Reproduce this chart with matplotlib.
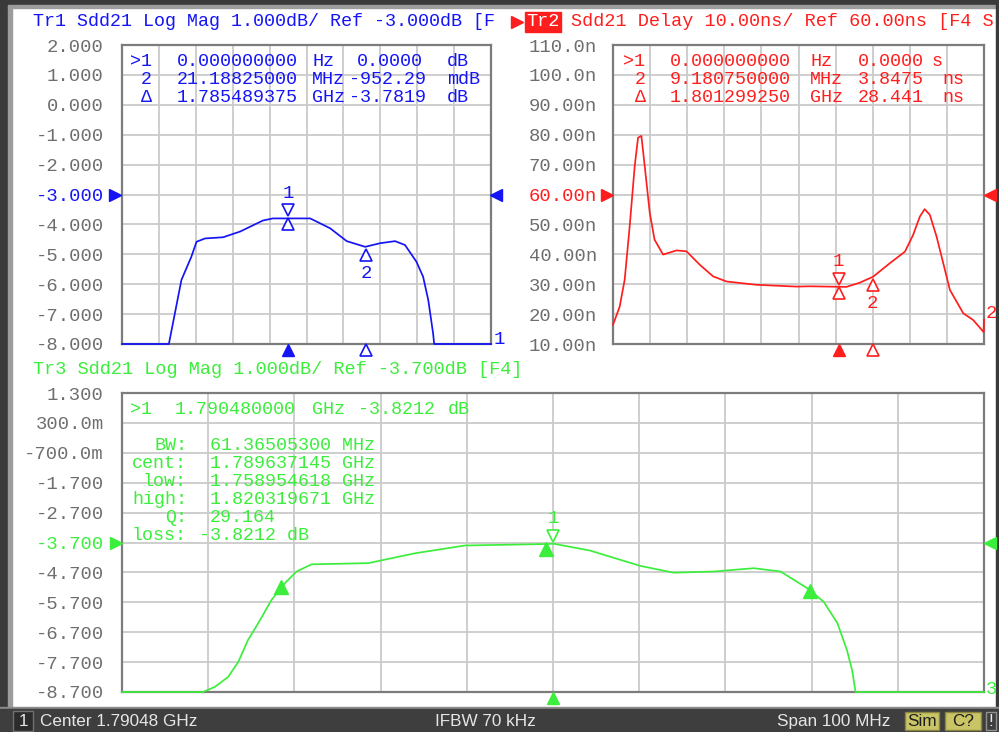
import matplotlib
matplotlib.use("Agg")
import matplotlib.pyplot as plt
from matplotlib.patches import Rectangle
from matplotlib.transforms import offset_copy
import numpy as np

W, H = 999, 732
F_START, F_STOP = 1.74048, 1.84048  # GHz, center 1.79048 GHz, span 100 MHz

# ---------------- data ----------------
tr1_freq = [1.74048, 1.75318, 1.75428, 1.75658, 1.75928, 1.76068, 1.76298, 1.76788,
            1.77248, 1.77868, 1.78138, 1.79148, 1.79688, 1.80138, 1.80638, 1.81038,
            1.81448, 1.81718, 1.82028, 1.82208, 1.82348, 1.82478, 1.82508, 1.84048]
tr1_db = [-8.0, -8.0, -7.31, -5.86, -5.08, -4.58, -4.47, -4.43,
          -4.24, -3.87, -3.80, -3.80, -4.13, -4.56, -4.75, -4.63,
          -4.56, -4.69, -5.25, -5.75, -6.53, -7.64, -8.0, -8.0]

tr2_freq = [1.74048, 1.74228, 1.74363, 1.74498, 1.74633, 1.74723, 1.74813, 1.74903,
            1.75038, 1.75168, 1.75398, 1.75758, 1.76028, 1.76388, 1.76748, 1.77108,
            1.77918, 1.78998, 1.79348, 1.80338, 1.80698, 1.81058, 1.81508, 1.81918,
            1.82138, 1.82318, 1.82448, 1.82588, 1.82768, 1.82948, 1.83128, 1.83488,
            1.83758, 1.84038, 1.84048]
tr2_ns = [16.4, 22.5, 31.5, 49.4, 69.5, 79.0, 79.6, 69.5,
          53.9, 44.9, 39.9, 41.3, 41.0, 36.5, 32.6, 30.9,
          29.8, 29.2, 29.3, 29.1, 30.5, 32.5, 37.0, 40.9,
          46.5, 52.6, 55.1, 53.2, 46.0, 37.1, 28.1, 20.3,
          18.0, 14.0, 18.1]

tr3_freq = [1.74048, 1.74988, 1.75125, 1.75278, 1.75398, 1.75508, 1.75628, 1.75783,
            1.75938, 1.76073, 1.76248, 1.76905, 1.77448, 1.78028, 1.78998, 1.79054,
            1.79478, 1.80058, 1.80448, 1.80912, 1.81378, 1.81688, 1.81998, 1.82188,
            1.82348, 1.82458, 1.82518, 1.82558, 1.84048]
tr3_db = [-8.7, -8.7, -8.53, -8.20, -7.69, -6.97, -6.40, -5.62,
          -5.06, -4.67, -4.43, -4.39, -4.06, -3.80, -3.75, -3.74,
          -3.97, -4.48, -4.71, -4.67, -4.56, -4.67, -5.23, -5.68,
          -6.40, -7.30, -7.97, -8.7, -8.7]

tr1_ticks = [2, 1, 0, -1, -2, -3, -4, -5, -6, -7, -8]
tr1_labels = ["2.000", "1.000", "0.000", "-1.000", "-2.000", "-3.000", "-4.000",
              "-5.000", "-6.000", "-7.000", "-8.000"]
tr2_ticks = [110, 100, 90, 80, 70, 60, 50, 40, 30, 20, 10]
tr2_labels = ["110.0n", "100.0n", "90.00n", "80.00n", "70.00n", "60.00n", "50.00n",
              "40.00n", "30.00n", "20.00n", "10.00n"]
tr3_ticks = [1.3, 0.3, -0.7, -1.7, -2.7, -3.7, -4.7, -5.7, -6.7, -7.7, -8.7]
tr3_labels = ["1.300", "300.0m", "-700.0m", "-1.700", "-2.700", "-3.700", "-4.700",
              "-5.700", "-6.700", "-7.700", "-8.700"]

tr1_ref, tr2_ref, tr3_ref = -3.0, 60.0, -3.7
tr1_m1, tr1_m2 = 1.785489375, 1.785489375 + 0.02118825
tr2_m1, tr2_m2 = 1.801299250, 1.801299250 + 0.00918075
tr3_m1 = 1.79048
tr3_low, tr3_cent, tr3_high = 1.758954618, 1.789637145, 1.820319671

tr1_title = "Tr1 Sdd21 Log Mag 1.000dB/ Ref -3.000dB [F"
tr2_title = "Sdd21 Delay 10.00ns/ Ref 60.00ns [F4 S"
tr3_title = "Tr3 Sdd21 Log Mag 1.000dB/ Ref -3.700dB [F4]"

tr1_rows = [(">1", "0.000000000", "Hz", "0.0000", "dB"),
            ("2", "21.18825000", "MHz", "-952.29", "mdB"),
            ("\u0394", "1.785489375", "GHz", "-3.7819", "dB")]
tr2_rows = [(">1", "0.000000000", "Hz", "0.0000", "s"),
            ("2", "9.180750000", "MHz", "3.8475", "ns"),
            ("\u0394", "1.801299250", "GHz", "28.441", "ns")]
tr3_row = (">1", "1.790480000", "GHz", "-3.8212", "dB")
bw_rows = [("BW:", "61.36505300 MHz"), ("cent:", "1.789637145 GHz"),
           ("low:", "1.758954618 GHz"), ("high:", "1.820319671 GHz"),
           ("Q:", "29.164"), ("loss:", "-3.8212 dB")]

BLUE, RED, GREEN = "#1414f5", "#ff1e1e", "#3cee3c"
GRAY_TXT = "#6e6e6e"
MONO = "Liberation Mono"
FS = 13.6      # tick labels
FM = 13.2      # marker read-outs

fig = plt.figure(figsize=(W / 100, H / 100), dpi=100)
fig.patch.set_facecolor("white")

def overlay(z):
    a = fig.add_axes([0, 0, 1, 1], zorder=z)
    a.set_xlim(0, W)
    a.set_ylim(H, 0)
    a.axis("off")
    a.patch.set_alpha(0)
    return a

bg = overlay(-10)
fg = overlay(10)

# window frame
bg.add_patch(Rectangle((0, 0), W, H, color="white"))
bg.add_patch(Rectangle((0, 0), 8, H, color="#3a3a3a"))
bg.add_patch(Rectangle((8, 6), 4, 702, color="#9c9c9c"))
bg.add_patch(Rectangle((0, 0), W, 5, color="#3a3a3a"))
bg.add_patch(Rectangle((8, 5), W - 8, 3, color="#9c9c9c"))
bg.add_patch(Rectangle((996, 0), 3, H, color="#3a3a3a"))

def make_axes(x0, y0, x1, y1):
    return fig.add_axes([x0 / W, 1 - y1 / H, (x1 - x0) / W, (y1 - y0) / H])

def style(ax, ticks, labels, ref, color, pad):
    ax.set_xlim(F_START, F_STOP)
    ax.set_ylim(min(ticks), max(ticks))
    ax.set_xticks(np.linspace(F_START, F_STOP, 11))
    ax.set_xticklabels([])
    ax.set_yticks(ticks)
    ax.set_yticklabels(labels, fontfamily=MONO, fontsize=FS, color=GRAY_TXT)
    ax.tick_params(length=0, pad=pad)
    ax.grid(True, color="#cacaca", lw=1.3)
    ax.set_axisbelow(True)
    for s in ax.spines.values():
        s.set_color("#7c7c7c")
        s.set_linewidth(1.6)
    for t, v in zip(ax.get_yticklabels(), ticks):
        if abs(v - ref) < 1e-9:
            t.set_color(color)

ax1 = make_axes(122, 45, 491, 344)
ax2 = make_axes(613, 45, 984, 344)
ax3 = make_axes(122, 393, 984, 692)
style(ax1, tr1_ticks, tr1_labels, tr1_ref, BLUE, 13)
style(ax2, tr2_ticks, tr2_labels, tr2_ref, RED, 11.5)
style(ax3, tr3_ticks, tr3_labels, tr3_ref, GREEN, 13)

ax1.plot(tr1_freq, tr1_db, color=BLUE, lw=1.25, clip_on=False, zorder=4)
ax2.plot(tr2_freq, tr2_ns, color=RED, lw=1.25, clip_on=False, zorder=4)
ax3.plot(tr3_freq, tr3_db, color=GREEN, lw=1.25, clip_on=False, zorder=4)

def off(ax, dy):
    return offset_copy(ax.transData, fig=fig, x=0, y=dy, units="dots")

def ref_arrows(ax, ref, color, left_px, right_px, w_px):
    tr = ax.get_yaxis_transform()
    ax.plot([-left_px / w_px], [ref], marker=">", ms=8, color=color, transform=tr, clip_on=False, zorder=6)
    ax.plot([1 + right_px / w_px], [ref], marker="<", ms=8, color=color, transform=tr, clip_on=False, zorder=6)

ref_arrows(ax1, tr1_ref, BLUE, 7, 5, 369)
ref_arrows(ax2, tr2_ref, RED, 6, 6, 371)
ref_arrows(ax3, tr3_ref, GREEN, 6, 6, 862)

def axis_markers(ax, f_fill, f_open, color, h_px):
    tr = ax.get_xaxis_transform()
    ax.plot([f_fill], [-6 / h_px], marker="^", ms=9, color=color, transform=tr, clip_on=False, zorder=6)
    if f_open is not None:
        ax.plot([f_open], [-6 / h_px], marker="^", ms=9, mfc="white", mec=color, mew=1.2,
                transform=tr, clip_on=False, zorder=6)

axis_markers(ax1, tr1_m1, tr1_m2, BLUE, 299)
axis_markers(ax2, tr2_m1, tr2_m2, RED, 299)
axis_markers(ax3, tr3_m1, None, GREEN, 299)

def curve_marker(ax, f, fx, fy, color, label, ref_below, sym_top=True):
    y = np.interp(f, fx, fy)
    if sym_top:
        ax.plot([f], [y], marker="v", ms=9, mfc="white", mec=color, mew=1.2,
                transform=off(ax, 8), clip_on=False, zorder=7)
        ax.text(f, y, label, color=color, fontfamily=MONO, fontsize=FS, ha="center", va="center",
                transform=off(ax, 25), zorder=7)
        if ref_below:
            ax.plot([f], [y], marker="^", ms=9, mfc="white", mec=color, mew=1.2,
                    transform=off(ax, -6), clip_on=False, zorder=7)
    else:
        ax.plot([f], [y], marker="^", ms=9, mfc="white", mec=color, mew=1.2,
                transform=off(ax, -8), clip_on=False, zorder=7)
        ax.text(f, y, label, color=color, fontfamily=MONO, fontsize=FS, ha="center", va="center",
                transform=off(ax, -27), zorder=7)

curve_marker(ax1, tr1_m1, tr1_freq, tr1_db, BLUE, "1", True)
curve_marker(ax1, tr1_m2, tr1_freq, tr1_db, BLUE, "2", False, sym_top=False)
curve_marker(ax2, tr2_m1, tr2_freq, tr2_ns, RED, "1", True)
curve_marker(ax2, tr2_m2, tr2_freq, tr2_ns, RED, "2", False, sym_top=False)
curve_marker(ax3, tr3_m1, tr3_freq, tr3_db, GREEN, "1", False)
for f, dy in [(tr3_low, 1), (tr3_cent, -5), (tr3_high, 0)]:
    y = np.interp(f, tr3_freq, tr3_db)
    ax3.plot([f], [y], marker="^", ms=10, color=GREEN, transform=off(ax3, dy), clip_on=False, zorder=7)

# ---------------- texts ----------------
def T(x, y, s, color, ha="left", size=FM, family=MONO, **kw):
    fg.text(x, y, s, color=color, ha=ha, va="center", fontsize=size, fontfamily=family, **kw)

T(33, 22, tr1_title, BLUE, size=13.2)
fg.plot([517], [22], marker=">", ms=9, color=RED, zorder=3)
T(526, 22, "Tr2", "white", size=13.4, zorder=3, bbox=dict(boxstyle="square,pad=0.08", fc=RED, ec=RED))
T(571, 22, tr2_title, RED, size=13.35, zorder=3)
T(33, 370, tr3_title, GREEN, size=13.4)

for (a, b, c, d, e), y in zip(tr1_rows, [62, 80, 98]):
    T(141 if a != ">1" else 130, y, a, BLUE)
    T(298, y, b, BLUE, ha="right")
    T(312, y, c, BLUE)
    T(357 if d == "0.0000" else 349, y, d, BLUE)
    T(447, y, e, BLUE)

for (a, b, c, d, e), y in zip(tr2_rows, [62, 80, 98]):
    T(635 if a != ">1" else 623, y, a, RED)
    T(791, y, b, RED, ha="right")
    T(810, y, c, RED)
    T(924, y, d, RED, ha="right")
    T(932 if e == "s" else 942, y, e, RED)

a, b, c, d, e = tr3_row
T(130, 410, a, GREEN)
T(175, 410, b, GREEN)
T(312, 410, c, GREEN)
T(358, 410, d, GREEN)
T(448, 410, e, GREEN)
for (lab, val), y in zip(bw_rows, [445, 463, 481, 499, 517, 535]):
    T(187, y, lab, GREEN, ha="right")
    T(199 if val.startswith("-") else 210, y, val, GREEN)

T(494, 340, "1", BLUE, size=FS)
T(986, 313, "2", RED, size=FS)
T(986, 689, "3", GREEN, size=FS)

# ---------------- status bar ----------------
fg.add_patch(Rectangle((0, 707), W, 2, color="#8a8a8a"))
fg.add_patch(Rectangle((0, 709), W, H - 709, color="#3e3e3e"))
fg.add_patch(Rectangle((13, 711), 20, 20, fc="#2c2c2c", ec="#707070", lw=1))
SANS = "Liberation Sans"
SF = 12.3
T(23, 721.5, "1", "#e6e6e6", ha="center", size=SF, family=SANS)
T(40, 721.5, "Center 1.79048 GHz", "#e6e6e6", size=SF, family=SANS)
T(435, 721.5, "IFBW 70 kHz", "#e6e6e6", size=SF, family=SANS)
T(777, 721.5, "Span 100 MHz", "#e6e6e6", size=SF, family=SANS)
fg.add_patch(Rectangle((905, 712), 34, 18, fc="#c9c466", ec="#8a8640", lw=1))
T(922, 721.5, "Sim", "#1e1e1e", ha="center", size=SF, family=SANS)
fg.add_patch(Rectangle((945, 712), 36, 18, fc="#c9c466", ec="#8a8640", lw=1))
T(963, 721.5, "C?", "#1e1e1e", ha="center", size=SF, family=SANS)
fg.add_patch(Rectangle((986, 712), 10, 18, fc="#3e3e3e", ec="#909090", lw=1))
T(991, 721.5, "!", "#e6e6e6", ha="center", size=SF, family=SANS)

fig.savefig("out.png", dpi=100)
